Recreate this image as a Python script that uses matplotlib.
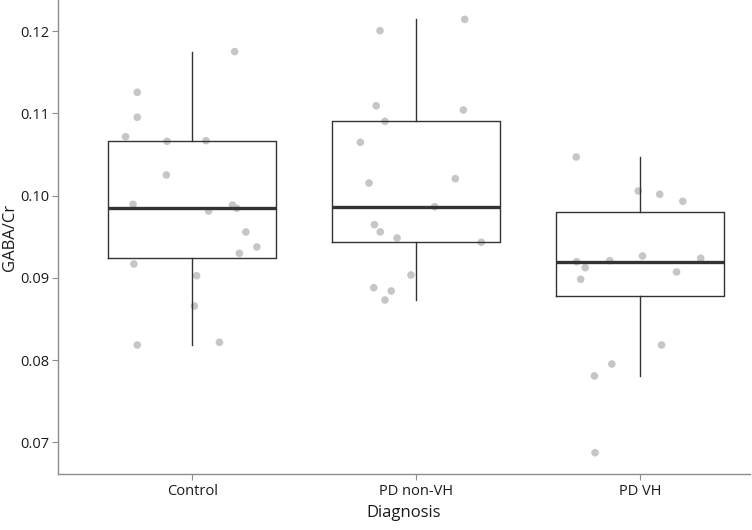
import matplotlib
matplotlib.use("Agg")
import matplotlib.pyplot as plt
import numpy as np

plt.rcParams['font.family'] = ['Open Sans', 'DejaVu Sans']

categories = ["Control", "PD non-VH", "PD VH"]

control_vals = [0.1175, 0.11255, 0.10951, 0.10715, 0.10659, 0.10667, 0.10250, 0.09893,
                0.09812, 0.09885, 0.09845, 0.09557, 0.09375, 0.09298, 0.09168, 0.09026,
                0.08657, 0.08183, 0.08216]
control_jit = [0.189, -0.246, -0.246, -0.298, -0.113, 0.061, -0.116, -0.265, 0.073, 0.179,
               0.198, 0.239, 0.288, 0.210, -0.261, 0.019, 0.009, -0.246, 0.121]

nonvh_vals = [0.12142, 0.12004, 0.11092, 0.11040, 0.10902, 0.10647, 0.10205, 0.10152,
              0.09864, 0.09646, 0.09557, 0.09484, 0.09432, 0.09034, 0.08880, 0.08840, 0.08730]
nonvh_jit = [0.216, -0.162, -0.179, 0.210, -0.140, -0.250, 0.174, -0.211, 0.082, -0.187,
             -0.161, -0.086, 0.290, -0.024, -0.190, -0.112, -0.140]

vh_vals = [0.10468, 0.10055, 0.10015, 0.09930, 0.09265, 0.09237, 0.09196, 0.09208,
           0.09123, 0.09071, 0.08982, 0.08183, 0.07952, 0.07807, 0.06874]
vh_jit = [-0.286, -0.009, 0.087, 0.190, 0.010, 0.270, -0.284, -0.136, -0.246, 0.162,
          -0.266, 0.095, -0.127, -0.205, -0.202]

# Box statistics
box_q1 = [0.09239, 0.09435, 0.08783]
box_med = [0.09845, 0.09864, 0.09196]
box_q3 = [0.10663, 0.10910, 0.09795]
box_lo = [0.08183, 0.08730, 0.07807]
box_hi = [0.11750, 0.12142, 0.10468]

yticks = [0.07, 0.08, 0.09, 0.10, 0.11, 0.12]
ytick_labels = ["0.07", "0.08", "0.09", "0.10", "0.11", "0.12"]

fig = plt.figure(figsize=(7.52, 5.30), dpi=100)
ax = fig.add_axes([58 / 752, 1 - 474 / 530, (750 - 58) / 752, 474 / 530])

groups = [(control_vals, control_jit), (nonvh_vals, nonvh_jit), (vh_vals, vh_jit)]
for i, (vals, jit) in enumerate(groups):
    xs = np.array(jit) + (i + 1)
    ax.scatter(xs, vals, s=30, color="#c6c6c6", edgecolors="none", zorder=1)

stats = []
for i in range(3):
    stats.append(dict(med=box_med[i], q1=box_q1[i], q3=box_q3[i],
                      whislo=box_lo[i], whishi=box_hi[i], fliers=[], label=categories[i]))

ax.bxp(stats, positions=[1, 2, 3], widths=0.75, showfliers=False, showcaps=False,
       patch_artist=False,
       boxprops=dict(color="#333333", linewidth=1.0),
       whiskerprops=dict(color="#333333", linewidth=1.0),
       medianprops=dict(color="#333333", linewidth=2.4, solid_capstyle="butt"),
       manage_ticks=False, zorder=2)

ax.set_xlim(0.4, 3.49)
ax.set_ylim(0.06615, 0.12377)
ax.set_xticks([1, 2, 3])
ax.set_xticklabels(categories)
ax.set_yticks(yticks)
ax.set_yticklabels(ytick_labels)

for side in ["top", "right"]:
    ax.spines[side].set_visible(False)
for side in ["left", "bottom"]:
    ax.spines[side].set_color("#8c8c8c")
    ax.spines[side].set_linewidth(1.0)

ax.tick_params(axis="both", colors="#8c8c8c", length=4, width=0.8,
               labelcolor="#1a1a1a", labelsize=10.5)
ax.tick_params(axis="x", pad=3)
ax.tick_params(axis="y", pad=2)

ax.set_xlabel("Diagnosis", fontsize=12, color="#1a1a1a")
ax.set_ylabel("GABA/Cr", fontsize=12, color="#1a1a1a")
ax.yaxis.set_label_coords((10 - 58) / 692, 0.5)
ax.xaxis.set_label_coords(0.5, (474 - 513) / 474)
ax.xaxis.label.set_va("center")
ax.yaxis.label.set_va("center")

fig.savefig("out.png", dpi=100)
